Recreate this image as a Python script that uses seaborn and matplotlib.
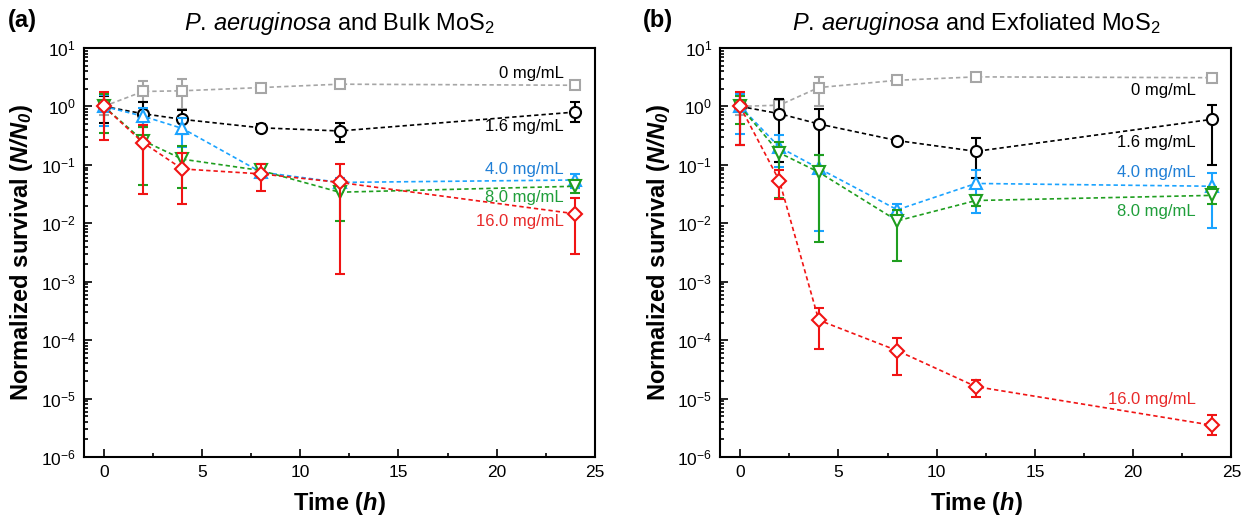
import numpy as np
import pandas as pd
import seaborn as sns
import matplotlib.pyplot as plt
from matplotlib.ticker import MultipleLocator, FixedLocator, NullFormatter

# sampling times (h)
time_h = [0, 2, 4, 8, 12, 24]

# (a) bulk MoS2: mean, lower and upper error bounds
bulk_0 = [1.0, 1.8, 1.85, 2.1, 2.4, 2.3]
bulk_0_lo = [0.7, 1.2, 0.9, 1.9, 2.2, 2.0]
bulk_0_hi = [1.5, 2.75, 3.0, 2.3, 2.65, 2.6]
bulk_16 = [1.0, 0.75, 0.6, 0.43, 0.38, 0.8]
bulk_16_lo = [0.52, 0.45, 0.34, 0.37, 0.25, 0.55]
bulk_16_hi = [1.5, 1.2, 0.87, 0.5, 0.52, 1.2]
bulk_40 = [1.0, 0.68, 0.42, 0.075, 0.05, 0.055]
bulk_40_lo = [0.46, 0.48, 0.2, 0.06, 0.042, 0.04]
bulk_40_hi = [1.55, 0.95, 0.63, 0.095, 0.06, 0.07]
bulk_80 = [1.0, 0.26, 0.125, 0.08, 0.034, 0.043]
bulk_80_lo = [0.35, 0.045, 0.04, 0.065, 0.011, 0.033]
bulk_80_hi = [1.6, 0.45, 0.21, 0.1, 0.05, 0.055]
bulk_160 = [1.0, 0.24, 0.085, 0.07, 0.05, 0.0145]
bulk_160_lo = [0.27, 0.032, 0.021, 0.035, 0.00135, 0.003]
bulk_160_hi = [1.75, 0.48, 0.16, 0.105, 0.105, 0.027]

# (b) exfoliated MoS2
exf_0 = [1.0, 1.05, 2.1, 2.8, 3.2, 3.1]
exf_0_lo = [0.7, 0.9, 1.0, 2.55, 3.0, 2.8]
exf_0_hi = [1.5, 1.25, 3.2, 3.1, 3.4, 3.4]
exf_16 = [1.0, 0.75, 0.5, 0.26, 0.17, 0.6]
exf_16_lo = [0.22, 0.11, 0.08, 0.235, 0.06, 0.1]
exf_16_hi = [1.7, 1.35, 0.9, 0.29, 0.29, 1.06]
exf_40 = [1.0, 0.2, 0.087, 0.017, 0.048, 0.043]
exf_40_lo = [0.34, 0.093, 0.0074, 0.014, 0.015, 0.0083]
exf_40_hi = [1.6, 0.32, 0.15, 0.021, 0.081, 0.073]
exf_80 = [1.0, 0.16, 0.075, 0.011, 0.0245, 0.030]
exf_80_lo = [0.5, 0.027, 0.0048, 0.0023, 0.02, 0.0217]
exf_80_hi = [1.5, 0.25, 0.15, 0.017, 0.03, 0.042]
exf_160 = [1.0, 0.053, 2.2e-4, 6.6e-5, 1.6e-5, 3.5e-6]
exf_160_lo = [0.22, 0.026, 7.1e-5, 2.5e-5, 1.07e-5, 2.4e-6]
exf_160_hi = [1.78, 0.083, 3.6e-4, 1.1e-4, 2.07e-5, 5.2e-6]

conc_labels = ['0 mg/mL', '1.6 mg/mL', '4.0 mg/mL', '8.0 mg/mL', '16.0 mg/mL']
x_ticks = [0, 5, 10, 15, 20, 25]
y_ticks = [1e-6, 1e-5, 1e-4, 1e-3, 1e-2, 1e-1, 1e0, 1e1]

sns.set_style("ticks")
plt.rcParams['font.family'] = ['Liberation Sans', 'DejaVu Sans']
plt.rcParams['mathtext.fontset'] = 'custom'
plt.rcParams['mathtext.rm'] = 'Liberation Sans'
plt.rcParams['mathtext.it'] = 'Liberation Sans:italic'
plt.rcParams['mathtext.bf'] = 'Liberation Sans:bold'
plt.rcParams['mathtext.bfit'] = 'Liberation Sans:italic:bold'
for k in ['text.color', 'axes.labelcolor', 'xtick.color', 'ytick.color',
          'xtick.labelcolor', 'ytick.labelcolor']:
    plt.rcParams[k] = 'black'

line_colors = ['#a6a6a6', '#000000', '#1aa3ff', '#1f9e1f', '#f01414']
text_colors = ['#000000', '#000000', '#1f7fd6', '#1f9e3a', '#e82a2a']
markers = ['s', 'o', '^', 'v', 'D']
msizes = [6.5, 8, 8.5, 8.5, 7.5]

fig = plt.figure(figsize=(12.45, 5.18), dpi=100)
ax_a = fig.add_axes([0.0675, 0.1178, 0.4104, 0.7896])
ax_b = fig.add_axes([0.5787, 0.1178, 0.4104, 0.7896])


def draw_panel(ax, series, label_pos, title):
    for i, (vals, lo, hi) in enumerate(series):
        vals = np.array(vals)
        c = line_colors[i]
        ax.errorbar(time_h, vals, yerr=[vals - np.array(lo), np.array(hi) - vals],
                    fmt='none', ecolor=c, elinewidth=1.5, capsize=3.8, capthick=1.5,
                    zorder=2 + i)
        sns.lineplot(x=time_h, y=vals, ax=ax, color=c, marker=markers[i],
                     markersize=msizes[i], markerfacecolor='white', markeredgecolor=c,
                     markeredgewidth=1.5, linestyle=(0, (2.6, 1.8)), linewidth=1.2,
                     zorder=2.5 + i)
    for i, (lx, ly) in enumerate(label_pos):
        ax.text(lx, ly, conc_labels[i], color=text_colors[i], fontsize=12,
                ha='right', va='center')

    ax.set_yscale('log')
    ax.set_ylim(1e-6, 1e1)
    ax.set_xlim(-1, 25)
    ax.xaxis.set_major_locator(FixedLocator(x_ticks))
    ax.xaxis.set_minor_locator(MultipleLocator(2.5))
    ax.yaxis.set_major_locator(FixedLocator(y_ticks))
    minors = [m * 10.0 ** e for e in range(-6, 1) for m in range(2, 10)]
    ax.yaxis.set_minor_locator(FixedLocator(minors))
    ax.yaxis.set_minor_formatter(NullFormatter())
    ax.xaxis.set_minor_formatter(NullFormatter())
    ax.tick_params(which='both', direction='in', top=False, right=False,
                   labelsize=12.5, width=1.2, color='black', labelcolor='black')
    ax.tick_params(which='major', length=6, pad=6)
    ax.tick_params(which='minor', length=3)
    for s in ax.spines.values():
        s.set_linewidth(1.5)
        s.set_color('black')
    ax.set_xlabel(r'Time ($\mathbfit{h}$)', fontsize=17, fontweight='bold', labelpad=7)
    ax.set_ylabel(r'Normalized survival ($\mathbfit{N/N_0}$)', fontsize=17,
                  fontweight='bold', labelpad=4)
    ax.set_title(title, fontsize=17, pad=13)


draw_panel(ax_a,
           [(bulk_0, bulk_0_lo, bulk_0_hi), (bulk_16, bulk_16_lo, bulk_16_hi),
            (bulk_40, bulk_40_lo, bulk_40_hi), (bulk_80, bulk_80_lo, bulk_80_hi),
            (bulk_160, bulk_160_lo, bulk_160_hi)],
           [(23.4, 3.7), (23.4, 0.45), (23.4, 0.082), (23.4, 0.028), (23.4, 0.0107)],
           r'$\mathit{P.\,aeruginosa}$ and Bulk MoS$_2$')

draw_panel(ax_b,
           [(exf_0, exf_0_lo, exf_0_hi), (exf_16, exf_16_lo, exf_16_hi),
            (exf_40, exf_40_lo, exf_40_hi), (exf_80, exf_80_lo, exf_80_hi),
            (exf_160, exf_160_lo, exf_160_hi)],
           [(23.2, 1.9), (23.2, 0.24), (23.2, 0.074), (23.2, 0.0158), (23.2, 9.5e-6)],
           r'$\mathit{P.\,aeruginosa}$ and Exfoliated MoS$_2$')

fig.text(0.006, 1 - 20 / 518, '(a)', fontsize=17, fontweight='bold', va='center')
fig.text(0.516, 1 - 20 / 518, '(b)', fontsize=17, fontweight='bold', va='center')

fig.savefig('out.png', dpi=100)
